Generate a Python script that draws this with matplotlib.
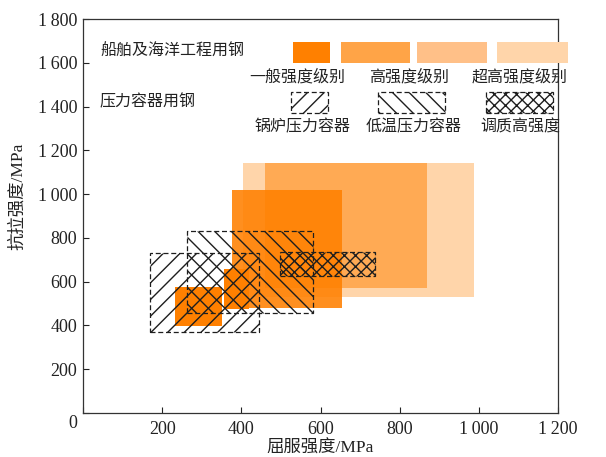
import matplotlib
matplotlib.use("Agg")
import matplotlib.pyplot as plt
from matplotlib.patches import Rectangle

plt.rcParams['font.family'] = ['Liberation Serif', 'Noto Sans CJK SC', 'DejaVu Sans']
plt.rcParams['hatch.linewidth'] = 1.0

# ---------------- data ----------------
# ship & offshore steels: (yield_lo, yield_hi, tensile_lo, tensile_hi)
ship_levels = ['一般强度级别', '高强度级别', '超高强度级别']
ship_ultra = [(405, 988, 531, 1140)]
ship_high = [(460, 870, 572, 1140)]
ship_general = [(377, 655, 481, 1021), (232, 350, 398, 577), (356, 420, 475, 656)]

# pressure vessel steels
vessel_types = ['锅炉压力容器', '低温压力容器', '调质高强度']
vessel_boiler = [(169, 445, 370, 729)]
vessel_lowtemp = [(262, 580, 458, 831)]
vessel_qt = [(498, 738, 627, 736)]

xticks = [0, 200, 400, 600, 800, 1000, 1200]
xticklabels = ['', '200', '400', '600', '800', '1\u2009000', '1\u2009200']
yticks = [0, 200, 400, 600, 800, 1000, 1200, 1400, 1600, 1800]
yticklabels = ['', '200', '400', '600', '800', '1\u2009000', '1\u2009200', '1\u2009400', '1\u2009600', '1\u2009800']

# ---------------- figure ----------------
W, H = 606, 457
fig = plt.figure(figsize=(W / 100, H / 100), dpi=100)
ax = fig.add_axes([83 / W, 1 - 413 / H, (558 - 83) / W, (413 - 19) / H])
ax.set_xlim(0, 1200)
ax.set_ylim(0, 1800)

c_general = '#ff8000'
c_high = '#ff9a33'
c_high_leg = '#ffc088'
c_ultra = '#ffd5aa'
c_line = '#1e1e1e'

def add_rects(rects, **kw):
    for (x0, x1, y0, y1) in rects:
        ax.add_patch(Rectangle((x0, y0), x1 - x0, y1 - y0, **kw))

add_rects(ship_ultra, facecolor=c_ultra, edgecolor='none', zorder=1)
add_rects(ship_high, facecolor=c_high, alpha=0.72, edgecolor='none', zorder=2)
add_rects(ship_general[:1], facecolor=c_general, alpha=0.88, edgecolor='none', zorder=3)
add_rects(ship_general[1:], facecolor=c_general, edgecolor='none', zorder=3)

dash = (0, (4, 2.2))
add_rects(vessel_boiler, facecolor='none', edgecolor=c_line, hatch='//', lw=0.9, linestyle=dash, zorder=4)
add_rects(vessel_lowtemp, facecolor='none', edgecolor=c_line, hatch='\\\\', lw=0.9, linestyle=dash, zorder=4)
add_rects(vessel_qt, facecolor='none', edgecolor=c_line, hatch='xxx', lw=0.9, linestyle=dash, zorder=4)

ax.set_xticks(xticks)
ax.set_xticklabels(xticklabels)
ax.set_yticks(yticks)
ax.set_yticklabels(yticklabels)
ax.tick_params(direction='in', length=4, width=0.8, labelsize=13, colors='#222222')
ax.tick_params(axis='x', pad=6)
ax.tick_params(axis='y', pad=4)
for s in ax.spines.values():
    s.set_linewidth(0.9)
    s.set_color('#333333')
ax.text(-6 / 475, -10 / 394, '0', transform=ax.transAxes, ha='right', va='center', fontsize=13, color='#222222')

ax.set_xlabel('屈服强度/MPa', fontsize=12.5, color='#222222', labelpad=2)
ax.set_ylabel('抗拉强度/MPa', fontsize=12.5, color='#222222')
ax.yaxis.set_label_coords(-57 / 475, (413 - 196) / 394)

# ---------------- legend (figure pixel coordinates) ----------------
def fig_rect(x0, y0, x1, y1, **kw):
    p = Rectangle((x0 / W, 1 - y1 / H), (x1 - x0) / W, (y1 - y0) / H,
                  transform=fig.transFigure, **kw)
    fig.add_artist(p)

def fig_text(x, y, s, **kw):
    fig.text(x / W, 1 - y / H, s, fontsize=11.5, color='#222222',
             family=['Noto Sans CJK SC', 'DejaVu Sans'], **kw)

fig_text(100, 51, '船舶及海洋工程用钢', ha='left', va='center')
fig_rect(293, 42, 330, 63, facecolor=c_general, edgecolor='none')
fig_rect(341, 42, 410, 63, facecolor=c_high, alpha=0.9, edgecolor='none')
fig_rect(417, 42, 487, 63, facecolor=c_high_leg, edgecolor='none')
fig_rect(497, 42, 568, 63, facecolor=c_ultra, edgecolor='none')
fig_text(297, 77, ship_levels[0], ha='center', va='center')
fig_text(409, 77, ship_levels[1], ha='center', va='center')
fig_text(520, 77, ship_levels[2], ha='center', va='center')

fig_text(100, 102, '压力容器用钢', ha='left', va='center')
fig_rect(291, 92, 328, 113, facecolor='none', edgecolor=c_line, hatch='//', lw=0.9, linestyle=dash)
fig_rect(378, 92, 445, 113, facecolor='none', edgecolor=c_line, hatch='\\\\', lw=0.9, linestyle=dash)
fig_rect(486, 92, 553, 113, facecolor='none', edgecolor=c_line, hatch='xxx', lw=0.9, linestyle=dash)
fig_text(303, 127, vessel_types[0], ha='center', va='center')
fig_text(414, 127, vessel_types[1], ha='center', va='center')
fig_text(520, 127, vessel_types[2], ha='center', va='center')

fig.savefig('out.png', dpi=100)
